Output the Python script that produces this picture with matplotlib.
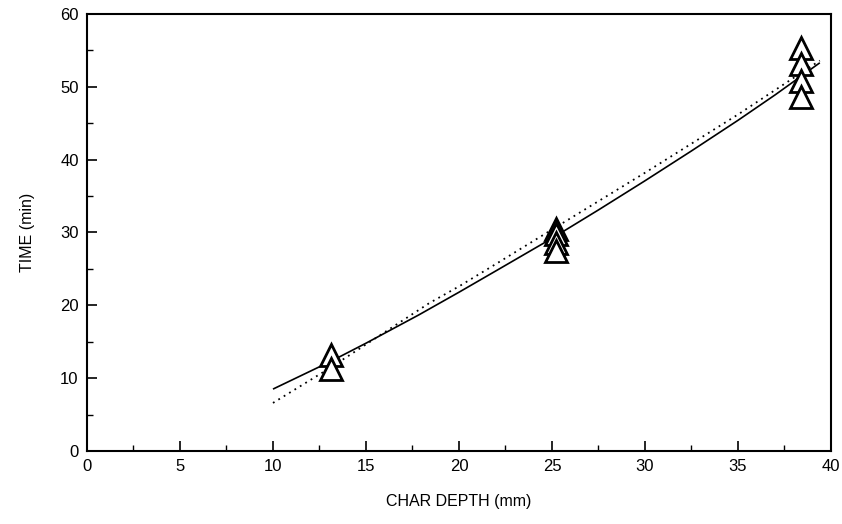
import matplotlib
matplotlib.use("Agg")
import matplotlib.pyplot as plt
from matplotlib.ticker import MultipleLocator

# Measured data (triangles)
depth_13 = [13.1, 13.1]
time_13 = [13.2, 11.2]
depth_25 = [25.2, 25.2, 25.2, 25.2]
time_25 = [30.5, 29.8, 28.5, 27.4]
depth_38 = [38.4, 38.4, 38.4, 38.4]
time_38 = [55.3, 53.1, 50.8, 48.6]

# Solid curve
solid_x = [10.0, 13.1, 15.0, 17.85, 20.0, 22.1, 25.0, 27.5, 30.0, 32.5, 35.0, 37.0, 39.4]
solid_y = [8.5, 12.3, 14.8, 18.7, 21.8, 24.9, 29.2, 33.1, 37.1, 41.2, 45.4, 48.9, 53.3]

# Dotted curve
dot_x = [10.0, 13.0, 18.4, 20.0, 22.0, 25.0, 30.0, 35.0, 39.4]
dot_y = [6.6, 11.3, 20.3, 22.6, 25.7, 30.4, 38.2, 46.2, 53.6]

xticks = [0, 5, 10, 15, 20, 25, 30, 35, 40]
yticks = [0, 10, 20, 30, 40, 50, 60]

plt.rcParams['font.family'] = ['Liberation Sans', 'DejaVu Sans']

fig = plt.figure(figsize=(8.42, 5.24), dpi=100)
ax = fig.add_axes([0.1033, 0.1393, 0.8836, 0.834])

ax.plot(solid_x, solid_y, color='black', lw=1.2, solid_capstyle='butt')
ax.plot(dot_x, dot_y, color='black', lw=1.3, linestyle=(0, (1, 2.5)))

mk = dict(marker='^', linestyle='none', markersize=15.5, markerfacecolor='white',
          markeredgecolor='black', markeredgewidth=2.0)
for xs, ys in [(depth_13, time_13), (depth_25, time_25), (depth_38, time_38)]:
    ax.plot(xs, ys, **mk)

ax.set_xlim(0, 40)
ax.set_ylim(0, 60)
ax.set_xticks(xticks)
ax.set_yticks(yticks)
ax.xaxis.set_minor_locator(MultipleLocator(2.5))
ax.yaxis.set_minor_locator(MultipleLocator(5))
ax.tick_params(which='major', direction='in', length=7, width=1.2,
               labelsize=12, pad=6, top=False, right=False)
ax.tick_params(which='minor', direction='in', length=4, width=1.0,
               top=False, right=False)
for s in ax.spines.values():
    s.set_linewidth(1.5)

ax.set_xlabel('CHAR DEPTH (mm)', fontsize=11.5, labelpad=14)
ax.set_ylabel('TIME (min)', fontsize=11.5, labelpad=18)

fig.savefig('out.png', dpi=100)
